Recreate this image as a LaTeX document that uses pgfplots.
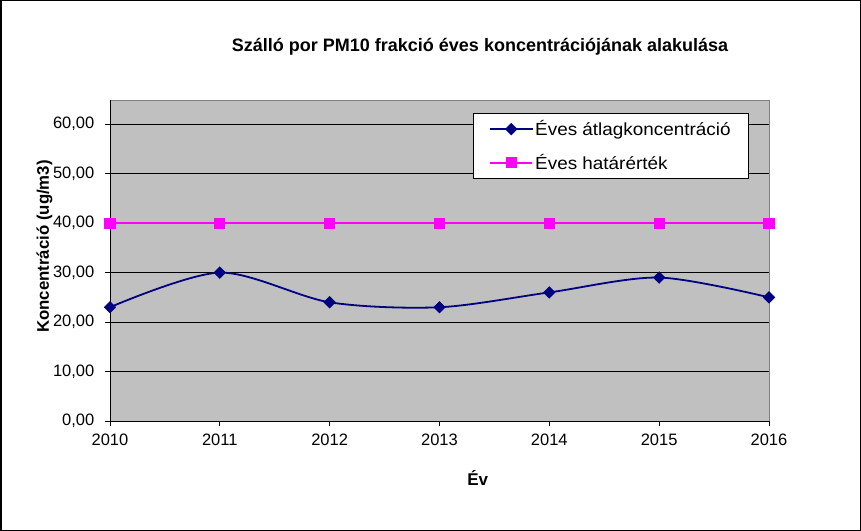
\documentclass[border=0pt]{standalone}
\usepackage{fontspec}
\setmainfont{Liberation Sans}
\newfontfamily\widefont{Liberation Sans}[FakeStretch=1.08]
\usepackage{pgfplots}
\pgfplotsset{compat=1.18}
\definecolor{plotgray}{HTML}{C0C0C0}
\definecolor{navyline}{HTML}{000080}
\definecolor{limitpink}{HTML}{FF00FF}
\begin{document}
\fontsize{16.5bp}{20bp}\selectfont
\begin{tikzpicture}
\useasboundingbox (0,0) rectangle (861bp,531bp);
\draw[line width=1.5bp] (0.75bp,0.75bp) rectangle (860.25bp,530.25bp);
\begin{axis}[
  at={(110bp,110bp)}, anchor=south west,
  scale only axis, width=659bp, height=321bp,
  xmin=2010, xmax=2016, ymin=0, ymax=64.9,
  xtick={2010,...,2016}, ytick={0,10,...,60},
  axis x line*=bottom, axis y line*=left,
  axis line style={black, line width=0.8bp, -},
  axis background/.style={fill=plotgray, draw=gray},
  tick align=outside, major tick length=5bp,
  tick style={black, line width=0.8bp},
  ymajorgrids, major grid style={black, line width=0.6bp},
  /pgf/number format/assume math mode=true,
  tick label style={font=\fontsize{16.5bp}{20bp}\selectfont},
  yticklabel style={xshift=-5bp, /pgf/number format/.cd, fixed, fixed zerofill, precision=2, use comma},
  xticklabel style={yshift=-2bp, /pgf/number format/1000 sep={}},
  title={\fontsize{18bp}{21bp}\selectfont\bfseries Szálló por PM10 frakció éves koncentrációjának alakulása},
  title style={at={(0.5615,1)}, anchor=center, yshift=47bp},
  xlabel={\fontsize{17bp}{20bp}\selectfont\bfseries Év},
  xlabel style={at={(0.558,0)}, anchor=center, yshift=-57bp},
  ylabel={\fontsize{16.8bp}{20bp}\selectfont\bfseries Koncentráció (ug/m3)},
  ylabel style={at={(0,0.5436)}, anchor=center, yshift=65.5bp},
  legend cell align=left,
  legend style={at={(0.551,0.9595)}, anchor=north west, draw=black, fill=white,
    line width=0.6bp, inner xsep=16bp, inner ysep=5bp, row sep=12bp,
    font=\widefont\fontsize{17.5bp}{20bp}\selectfont, nodes={inner sep=2bp}},
  legend image code/.code={\draw[mark repeat=2, mark phase=2, #1]
    plot coordinates {(0bp,0bp) (21bp,0bp) (42bp,0bp)};},
]
\addplot[navyline, line width=1.8bp, smooth, tension=0.5,
  mark=square*, mark size=3.5bp, mark options={rotate=45, solid}]
  coordinates {(2010,23) (2011,30) (2012,24) (2013,23) (2014,26) (2015,29) (2016,25)};
\addlegendentry{Éves átlagkoncentráció}
\addplot[limitpink, line width=1.8bp, mark=square*, mark size=4.7bp]
  coordinates {(2010,40) (2011,40) (2012,40) (2013,40) (2014,40) (2015,40) (2016,40)};
\addlegendentry{Éves határérték}
\end{axis}
\end{tikzpicture}
\end{document}
